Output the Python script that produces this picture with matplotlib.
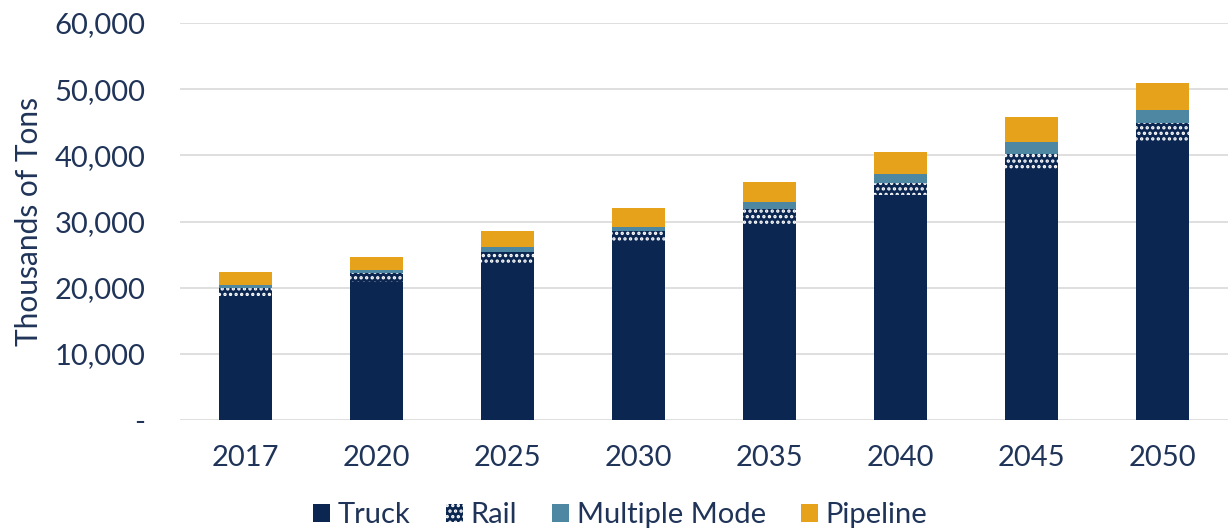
import matplotlib.pyplot as plt
import numpy as np
from matplotlib.ticker import FuncFormatter

plt.rcParams['font.family'] = ['Lato', 'DejaVu Sans']
plt.rcParams['hatch.linewidth'] = 1.6

# data (thousands of tons)
years = ['2017', '2020', '2025', '2030', '2035', '2040', '2045', '2050']
truck = [18700, 20900, 23700, 26900, 29500, 34000, 37800, 42200]
rail = [1250, 1350, 1700, 1650, 2350, 1850, 2350, 2650]
multiple_mode = [450, 450, 750, 650, 1150, 1400, 1800, 2000]
pipeline = [2000, 2000, 2400, 2900, 3000, 3300, 3850, 4050]

navy = '#0B2650'
steel = '#4D87A2'
gold = '#E6A21A'
text_col = '#1F3458'

fig = plt.figure(figsize=(12.28, 5.31), dpi=100)
ax = fig.add_axes([0.1466, 0.209, 0.8534, 0.7477])

x = np.arange(len(years))
w = 0.40
truck = np.array(truck)
rail = np.array(rail)
multiple_mode = np.array(multiple_mode)
pipeline = np.array(pipeline)

ax.bar(x, truck, w, color=navy, label='Truck', zorder=2)
ax.bar(x, rail, w, bottom=truck, facecolor=navy, edgecolor='white',
       hatch='...', linewidth=0, label='Rail', zorder=2)
b2 = truck + rail
ax.bar(x, multiple_mode, w, bottom=b2, color=steel, label='Multiple Mode', zorder=2)
b3 = b2 + multiple_mode
ax.bar(x, pipeline, w, bottom=b3, color=gold, label='Pipeline', zorder=2)

ax.set_xlim(-0.5, 7.5)
ax.set_ylim(0, 60000)
ax.set_yticks(np.arange(0, 60001, 10000))
ax.yaxis.set_major_formatter(FuncFormatter(lambda v, p: '-' if v == 0 else f'{v:,.0f}'))
ax.set_xticks(x)
ax.set_xticklabels(years)
ax.grid(axis='y', color='#D9D9D9', linewidth=1.2, zorder=0)
ax.set_axisbelow(True)
for s in ax.spines.values():
    s.set_visible(False)
ax.tick_params(axis='y', length=0, pad=25, labelsize=21, labelcolor=text_col)
ax.tick_params(axis='x', length=0, pad=18, labelsize=21, labelcolor=text_col)
ax.set_ylabel('Thousands of Tons', fontsize=21.5, color=text_col, labelpad=8)

fig.legend(loc='center', bbox_to_anchor=(0.505, 0.03), ncol=4, frameon=False,
           fontsize=21, labelcolor=text_col, handlelength=0.6, handleheight=0.6,
           handletextpad=0.25, columnspacing=1.2)

plt.savefig('out.png', dpi=100)
